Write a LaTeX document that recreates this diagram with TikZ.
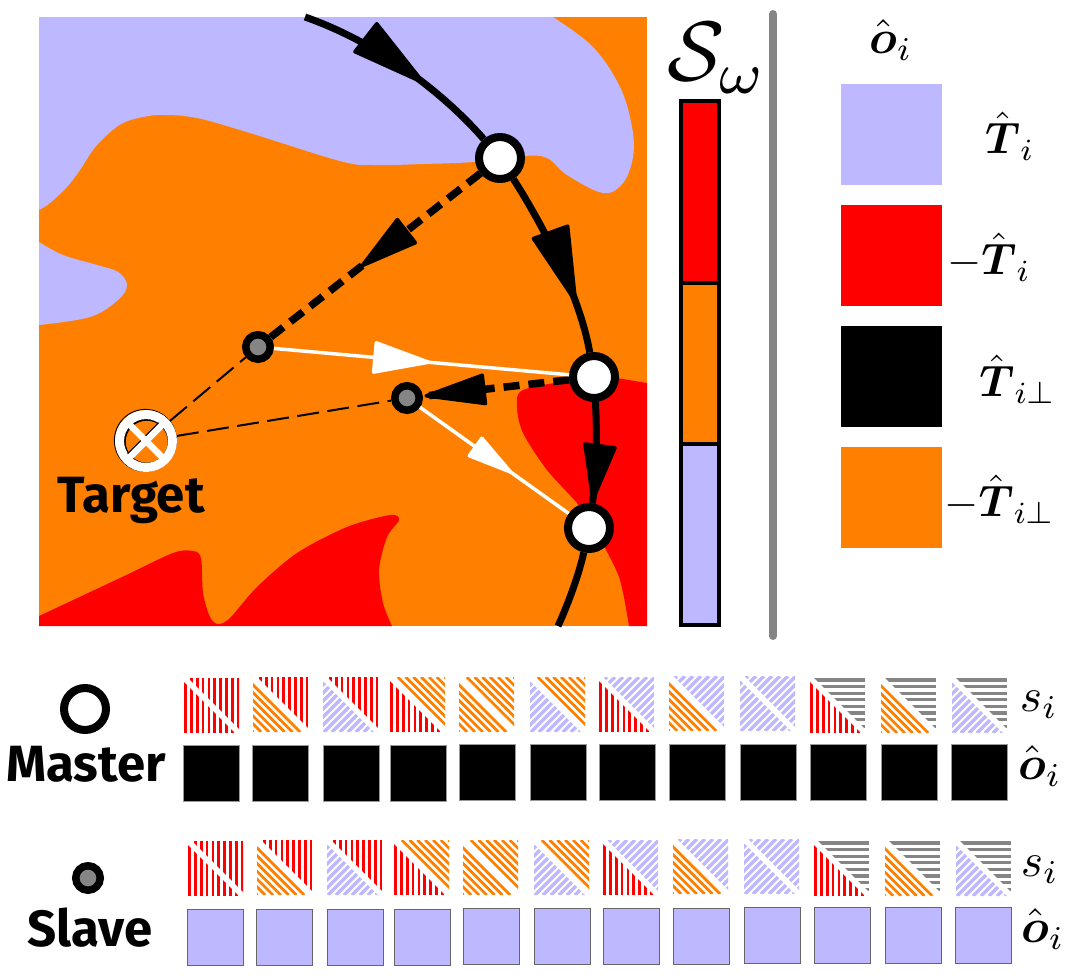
\documentclass[tikz,border=0pt]{standalone}
\usepackage{amssymb}
\usepackage{amsmath}
\usepackage{fontspec}
\usepackage{tikz}
\usetikzlibrary{arrows.meta, decorations.markings}
\newfontfamily\labelfont{Fira Sans}
\definecolor{lavfill}{HTML}{BDB8FF}
\definecolor{orangefill}{HTML}{FF8000}
\definecolor{barstroke}{HTML}{858585}
\tikzset{
  masternode/.style={circle,draw=black,fill=white,line width=.16cm,minimum size=.84cm,inner sep=0pt},
  slavenode/.style={circle,draw=black,fill=barstroke,line width=.15cm,minimum size=.49cm,inner sep=0pt},
  mathlabel/.style={scale=2.7,inner sep=0pt},
  boldlabel/.style={scale=2.5,inner sep=0pt},
  namelabel/.style={inner sep=0pt,font=\labelfont\bfseries\fontsize{29}{33}\selectfont},
  midarrow/.style n args={3}{postaction={decorate},decoration={markings,mark=at position #1 with {\arrow{Triangle[length=#2,width=#3,line width=2pt,round]}}}},
  pathline/.style={black,line width=.14cm},
  thickdash/.style={black,line width=.15cm,dash pattern=on .32cm off .18cm},
  thindash/.style={black,line width=.04cm,dash pattern=on .44cm off .17cm},
  whiteline/.style={white,line width=.07cm}
}
\newcommand{\hatchred}{\foreach \k in {0,...,9} \draw[red,line width=.055cm] (\k*5.87+1.5,0) -- (\k*5.87+1.5,55);}
\newcommand{\hatchorange}{\foreach \k in {-8,...,8} \draw[orangefill,line width=.055cm] (\k*7.8,0) -- (\k*7.8+55,55);}
\newcommand{\hatchlav}{\foreach \k in {0,...,14} \draw[lavfill,line width=.07cm] (\k*8,0) -- (\k*8-55,55);}
\newcommand{\hatchgray}{\foreach \k in {0,...,8} \draw[barstroke,line width=.065cm] (0,\k*6.6+2) -- (55,\k*6.6+2);}
\newcommand{\hatchtile}[4]{
  \begin{scope}[shift={(#1,#2)}]
    \begin{scope}
      \clip (0,0) -- (55,0) -- (55,55) -- cycle;
      \csname hatch#3\endcsname
    \end{scope}
    \begin{scope}
      \clip (0,0) -- (0,55) -- (55,55) -- cycle;
      \csname hatch#4\endcsname
    \end{scope}
    \draw[white,line width=.11cm] (-2,-2) -- (57,57);
  \end{scope}
}
\begin{document}
\begin{tikzpicture}[x=.02cm,y=-.02cm]
\useasboundingbox (0,0) rectangle (1069,978);
\fill[orangefill] (39,17) rectangle (647,626);
\begin{scope}
\clip (39,17) rectangle (647,626);
\fill[lavfill] (39,17) -- plot[smooth,tension=.6] coordinates {(39,210) (50,203) (67,187) (80,170) (93,150) (107,135) (123,123) (143,117) (163,115) (197,118) (250,133) (340,161) (373,165) (423,164) (473,162) (523,156) (547,158) (567,175) (603,193) (623,183) (633,157) (632,127) (620,87) (593,47) (553,17)} -- cycle;
\fill[lavfill] (39,242) -- plot[smooth,tension=.6] coordinates {(39,242) (63,255) (97,265) (118,272) (127,285) (118,300) (90,317) (39,325)} -- cycle;
\fill[red] (39,626) -- plot[smooth,tension=.5] coordinates {(39,616) (120,578) (173,553) (193,551) (201,558) (203,593) (210,617) (218,624) (230,618) (257,587) (297,553) (347,527) (390,515) (399,520) (387,537) (379,570) (383,603) (392,626)} -- cycle;
\fill[red] (647,626) -- (647,383) -- plot[smooth,tension=.5] coordinates {(617,378) (575,380) (523,390) (517,407) (523,433) (547,470) (577,503) (592,525) (605,548) (620,580) (629,626)} -- cycle;
\end{scope}

\node[masternode] (master1) at (500,158) {};
\node[masternode] (master2) at (594,377) {};
\node[masternode] (master3) at (589,528) {};
\node[slavenode] (slave1) at (258,347) {};
\node[slavenode] (slave2) at (407,398) {};
\node[circle,minimum size=1.24cm,inner sep=0pt] (target) at (146,441) {};
\coordinate (trajstart) at (305,17);
\coordinate (trajend) at (558,626);

\draw[pathline,midarrow={.63}{1.65cm}{.78cm}] (trajstart) .. controls (385,45) and (450,100) .. (master1);
\draw[pathline,midarrow={.73}{1.65cm}{.8cm}] (master1) .. controls (530,205) and (578,285) .. (master2);
\draw[pathline,midarrow={.98}{1.25cm}{.68cm}] (master2) .. controls (597,430) and (597,470) .. (master3);
\draw[pathline] (master3) .. controls (580,570) and (570,600) .. (trajend);
\draw[thickdash,midarrow={.57}{1.3cm}{.66cm}] (master1) -- (slave1);
\draw[thickdash,midarrow={.99}{1.35cm}{.64cm}] (master2) -- (slave2);
\draw[whiteline,midarrow={.53}{1.25cm}{.66cm}] (slave1) -- (master2);
\draw[whiteline,midarrow={.62}{1.05cm}{.5cm}] (slave2) -- (master3);
\draw[thindash] (target) -- (slave1);
\draw[thindash] (target) -- (slave2);

\begin{scope}[shift={(target.center)}]
\draw[black,line width=.02cm] (-.6,-.6) circle[radius=31];
\draw[black,line width=.04cm] (.7,.7) circle[radius=22];
\draw[white,line width=.18cm] (0,0) circle[radius=26.5];
\draw[black,line width=.04cm] (-18,13) -- (13,-18);
\draw[white,line width=.13cm] (-17,17) -- (17,-17);
\draw[white,line width=.13cm] (-17,-17) -- (17,17);
\end{scope}
\node[namelabel] (targetname) at (131,500) {Target};

\draw[black,fill=red,line width=.09cm] (681,101) rectangle (719,283);
\draw[black,fill=orangefill,line width=.09cm] (681,283) rectangle (719,444);
\draw[black,fill=lavfill,line width=.09cm] (681,444) rectangle (719,625);
\node[inner sep=0pt,scale=4.8] (barlabel) at (717,58) {$\mathcal{S}_\omega$};
\draw[barstroke,line width=.16cm,line cap=round] (773,14) -- (773,636);

\fill[lavfill] (841,84) rectangle (942,185);
\fill[red] (841,205) rectangle (942,306);
\fill[black] (841,326) rectangle (942,427);
\fill[orangefill] (841,447) rectangle (942,548);
\node[mathlabel] (keyhead) at (891,40) {$\hat{\boldsymbol{o}}_i$};
\node[boldlabel] (keyone) at (1010,136) {$\hat{\boldsymbol{T}}_i$};
\node[boldlabel] (keytwo) at (989,257) {$-\hat{\boldsymbol{T}}_i$};
\node[boldlabel] (keythree) at (1018,379) {$\hat{\boldsymbol{T}}_{i\perp}$};
\node[boldlabel] (keyfour) at (1000,499) {$-\hat{\boldsymbol{T}}_{i\perp}$};

\node[masternode] (masterkey) at (85,709) {};
\node[namelabel] (mastername) at (86,764) {Master};
\node[slavenode] (slavekey) at (88,878) {};
\node[namelabel] (slavename) at (90,928) {Slave};

\foreach \tx/\ty/\up/\lo in {184/678/red/red,253/677/red/orange,323/677/red/lav,390/677/orange/red,459/677/orange/orange,530/677/orange/lav,599/677/lav/red,669/676/lav/orange,740/676/lav/lav,810/678/gray/red,881/678/gray/orange,952/678/gray/lav,188/841/red/red,257/840/red/orange,327/840/red/lav,394/840/orange/red,463/840/orange/orange,534/840/orange/lav,603/840/lav/red,673/839/lav/orange,744/839/lav/lav,814/841/gray/red,885/841/gray/orange,956/841/gray/lav}
  {\hatchtile{\tx}{\ty}{\up}{\lo}}

\foreach \sx/\sy in {183/745,252/745,323/745,390/745,459/744,530/744,599/744,669/744,740/744,810/744,881/744,951/744}
  \draw[fill=black,draw=black!40,line width=.02cm] (\sx,\sy) rectangle ++(56,56);
\foreach \sx/\sy in {187/909,256/909,327/909,394/909,463/908,534/908,603/908,673/908,744/907,814/907,885/907,955/907}
  \draw[fill=lavfill,draw=black!60,line width=.02cm] (\sx,\sy) rectangle ++(56,56);

\node[mathlabel] (rowsone) at (1039,705) {$s_i$};
\node[mathlabel] (rowoone) at (1040,766) {$\hat{\boldsymbol{o}}_i$};
\node[mathlabel] (rowstwo) at (1040,870) {$s_i$};
\node[mathlabel] (rowotwo) at (1043,929) {$\hat{\boldsymbol{o}}_i$};
\end{tikzpicture}
\end{document}
